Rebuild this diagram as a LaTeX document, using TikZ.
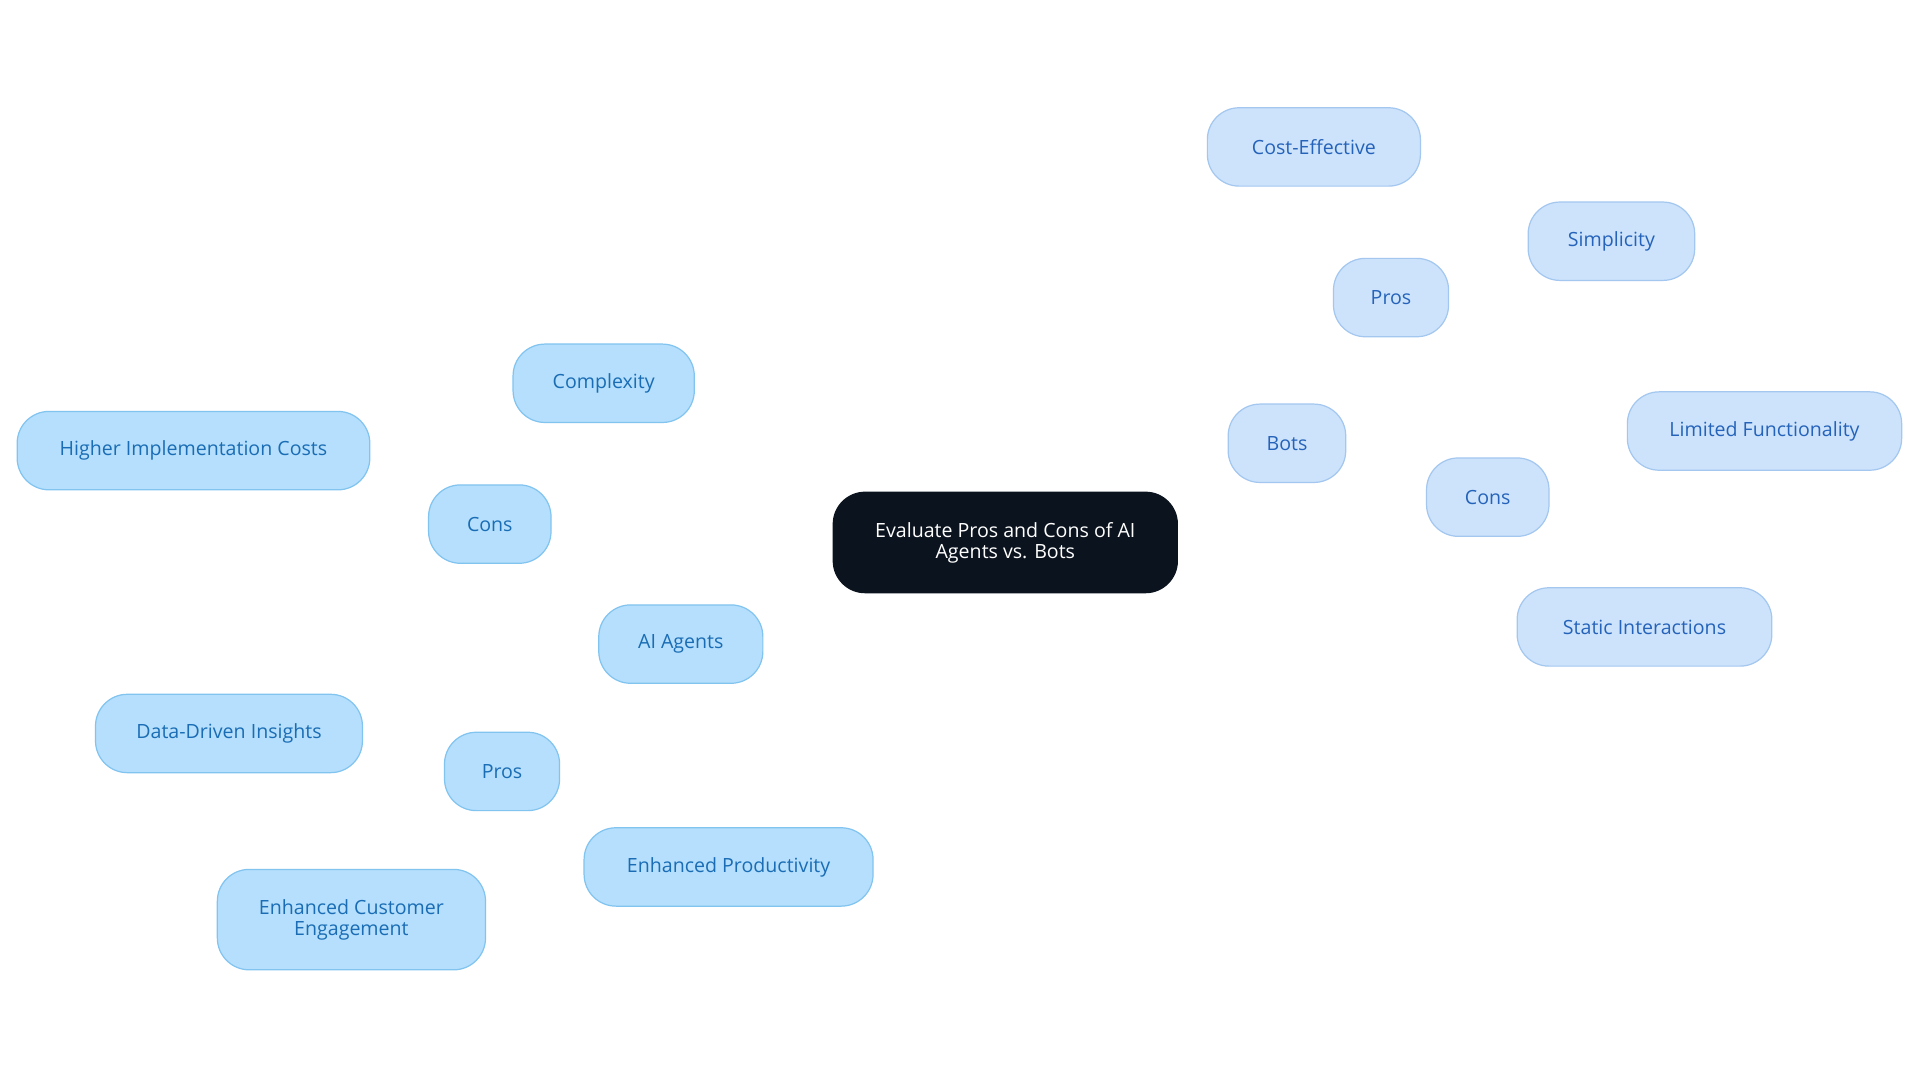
\documentclass[tikz,border=0pt]{standalone}
\usepackage{fontspec}
\setmainfont{Open Sans}
\usetikzlibrary{backgrounds}
\definecolor{lfill}{HTML}{B5DFFC}
\definecolor{lline}{HTML}{82C4F0}
\definecolor{ltext}{HTML}{1A6DB5}
\definecolor{rfill}{HTML}{CDE3FB}
\definecolor{rline}{HTML}{A4C7F0}
\definecolor{rtext}{HTML}{2563BA}
\definecolor{rootfill}{HTML}{0B131E}
\tikzset{
 x=1pt,y=-1pt,
 base/.style={rounded corners=26pt,font=\fontsize{16}{17}\selectfont,align=center,inner sep=0pt,line width=1pt},
 lnode/.style={base,fill=lfill,draw=lline,text=ltext},
 rnode/.style={base,fill=rfill,draw=rline,text=rtext},
 rootnode/.style={base,fill=rootfill,draw=rootfill,text=white},
 ledge/.style={draw=lline,line width=2pt},
 redge/.style={draw=rline,line width=2pt},
}
\newcommand{\nd}[6]{\node[#1,minimum width=#4pt,minimum height=#5pt] (#2) at #3 {#6};}
\begin{document}
\begin{tikzpicture}
\useasboundingbox (0,0) rectangle (1568,884);
\fill[white] (0,0) rectangle (1568,884);
\nd{rootnode}{root}{(821,443)}{281}{82}{Evaluate Pros and Cons of AI\\Agents vs. Bots}
\nd{lnode}{ai}{(556,526)}{134}{64}{AI Agents}
\nd{lnode}{lcons}{(400,428)}{100}{64}{Cons}
\nd{lnode}{cx}{(493,313)}{148}{64}{Complexity}
\nd{lnode}{hic}{(158,368)}{288}{64}{Higher Implementation Costs}
\nd{lnode}{lpros}{(410,630)}{94}{64}{Pros}
\nd{lnode}{ddi}{(187,599)}{218}{64}{Data-Driven Insights}
\nd{lnode}{ece}{(287,751)}{219}{82}{Enhanced Customer\\Engagement}
\nd{lnode}{ep}{(595,708)}{236}{64}{Enhanced Productivity}
\nd{rnode}{bots}{(1051,362)}{96}{64}{Bots}
\nd{rnode}{rpros}{(1136,243)}{94}{64}{Pros}
\nd{rnode}{ce}{(1073,120)}{174}{64}{Cost-Effective}
\nd{rnode}{simp}{(1316,197)}{136}{64}{Simplicity}
\nd{rnode}{rcons}{(1215,406)}{100}{64}{Cons}
\nd{rnode}{lf}{(1441,352)}{224}{64}{Limited Functionality}
\nd{rnode}{si}{(1343,512)}{208}{64}{Static Interactions}
\begin{pgfonlayer}{background}
\draw[ledge] (root.center) -- (ai.center);
\draw[ledge] (ai.center) -- (lcons.center);
\draw[ledge] (lcons.center) -- (cx.center);
\draw[ledge] (lcons.center) -- (hic.center);
\draw[ledge] (ai.center) -- (lpros.center);
\draw[ledge] (lpros.center) -- (ddi.center);
\draw[ledge] (lpros.center) -- (ece.center);
\draw[ledge] (lpros.center) -- (ep.center);
\draw[redge] (root.center) -- (bots.center);
\draw[redge] (bots.center) -- (rpros.center);
\draw[redge] (rpros.center) -- (ce.center);
\draw[redge] (rpros.center) -- (simp.center);
\draw[redge] (bots.center) -- (rcons.center);
\draw[redge] (rcons.center) -- (lf.center);
\draw[redge] (rcons.center) -- (si.center);
\end{pgfonlayer}
\end{tikzpicture}
\end{document}
